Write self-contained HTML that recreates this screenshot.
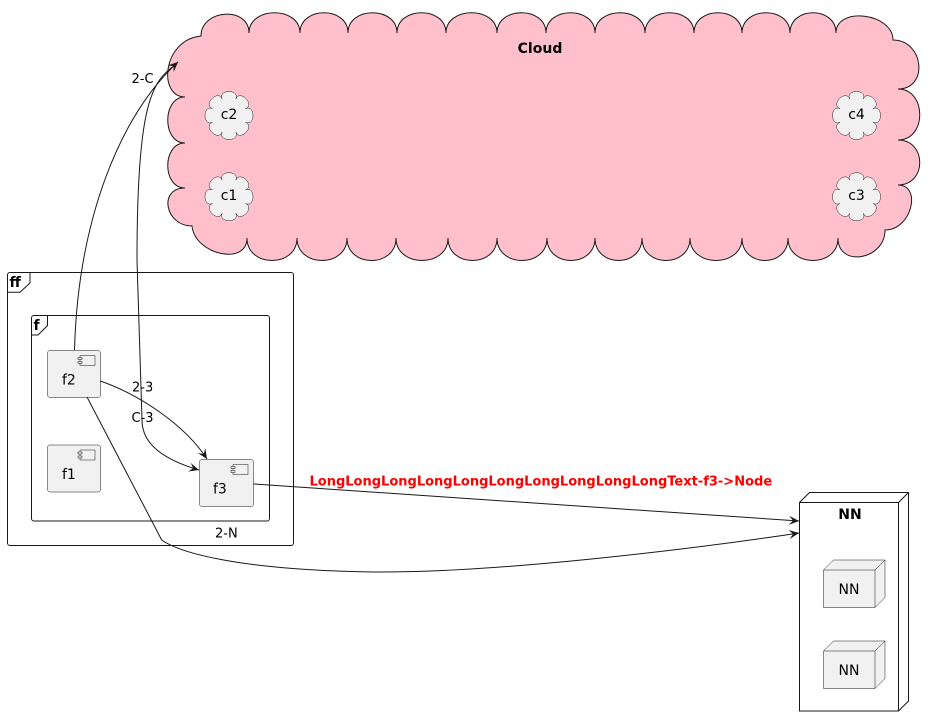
<!DOCTYPE html>
<html><head><meta charset="utf-8">
<style>
html,body{margin:0;padding:0;background:#fff;}
svg{display:block;}
text{font-family:"DejaVu Sans","Liberation Sans",sans-serif;fill:#000;}
</style></head>
<body>
<svg width="934" height="727" viewBox="0 0 934 727" xmlns="http://www.w3.org/2000/svg">
<defs>
<marker id="a" viewBox="-11 -5 12 10" refX="0" refY="0" markerWidth="12" markerHeight="10" markerUnits="userSpaceOnUse" orient="auto">
<path d="M0,0 L-10,-4.5 L-6,0 L-10,4.5 Z" fill="#181818"/>
</marker>
<path id="sc" d="M16.63,6.89 C26.43,10.95 10.95,26.43 6.89,16.63 C10.95,26.43 -10.95,26.43 -6.89,16.63 C-10.95,26.43 -26.43,10.95 -16.63,6.89 C-26.43,10.95 -26.43,-10.95 -16.63,-6.89 C-26.43,-10.95 -10.95,-26.43 -6.89,-16.63 C-10.95,-26.43 10.95,-26.43 6.89,-16.63 C10.95,-26.43 26.43,-10.95 16.63,-6.89 C26.43,-10.95 26.43,10.95 16.63,6.89 Z"/>
</defs>

<!-- Big cloud -->
<path d="M201,36
C201,9 249,6 249,33
C249,6 300,6 300,33
C300,6 348,6 348,33
C348,6 397,6 397,33
C397,6 446,6 446,33
C446,6 497,6 497,33
C497,6 546,6 546,33
C546,6 595,6 595,33
C595,6 645,6 645,33
C645,6 694,6 694,33
C694,6 742,6 742,33
C742,6 790,6 790,33
C790,6 836,6 836,33
C836,6 893,13 893,40
C924,40 929,89 898,89
C927,89 927,140 898,140
C927,140 927,185 898,185
C922,185 912,230 885,230
C885,260 838,268 838,238
C838,268 788,268 788,238
C788,268 742,268 742,238
C742,268 690,268 690,238
C690,268 642,268 642,238
C642,268 595,268 595,238
C595,268 547,268 547,238
C547,268 497,268 497,238
C497,268 448,268 448,238
C448,268 396,268 396,238
C396,268 347,268 347,238
C347,268 297,268 297,238
C297,268 247,268 247,238
C247,266 195,255 192,226
C165,226 158,188 185,188
C162,188 162,143 185,143
C162,143 162,97 185,97
C158,97 162,40 201,36 Z" fill="#FFC0CB" stroke="#181818" stroke-width="1"/>
<text x="540" y="53" font-size="14" font-weight="bold" text-anchor="middle">Cloud</text>

<!-- small clouds -->
<g fill="#F1F1F1" stroke="#181818" stroke-width="0.5">
<use href="#sc" transform="translate(229,115.5)"/>
<use href="#sc" transform="translate(229,196.7)"/>
<use href="#sc" transform="translate(856.5,115.5)"/>
<use href="#sc" transform="translate(856.5,196.7)"/>
</g>
<text x="229" y="119" font-size="14" text-anchor="middle">c2</text>
<text x="229" y="200" font-size="14" text-anchor="middle">c1</text>
<text x="856.5" y="119" font-size="14" text-anchor="middle">c4</text>
<text x="856.5" y="200" font-size="14" text-anchor="middle">c3</text>

<!-- frames -->
<rect x="7.5" y="272.5" width="286" height="273" rx="2.5" fill="none" stroke="#181818" stroke-width="1"/>
<path d="M7.5,292.3 L20,292.3 L30,283 L30,272.5" fill="none" stroke="#181818" stroke-width="1"/>
<text x="9.5" y="287" font-size="14" font-weight="bold">ff</text>
<rect x="31.5" y="315.5" width="238" height="205.5" rx="2.5" fill="none" stroke="#181818" stroke-width="1"/>
<path d="M31.5,335 L38,335 L47.5,325.5 L47.5,315.5" fill="none" stroke="#181818" stroke-width="1"/>
<text x="33.5" y="330" font-size="14" font-weight="bold">f</text>

<!-- components -->
<g fill="#F1F1F1" stroke="#181818" stroke-width="0.5">
<rect x="47.5" y="350.5" width="53" height="47" rx="2.5"/>
<rect x="80" y="355.5" width="15" height="10"/>
<rect x="78" y="357.5" width="4" height="2"/>
<rect x="78" y="361.5" width="4" height="2"/>

<rect x="47.5" y="445" width="53" height="47" rx="2.5"/>
<rect x="80" y="450" width="15" height="10"/>
<rect x="78" y="452" width="4" height="2"/>
<rect x="78" y="456" width="4" height="2"/>

<rect x="199.5" y="459.5" width="54" height="47" rx="2.5"/>
<rect x="233" y="464.5" width="15" height="10"/>
<rect x="231" y="466.5" width="4" height="2"/>
<rect x="231" y="470.5" width="4" height="2"/>
</g>
<text x="62" y="384.5" font-size="14">f2</text>
<text x="62" y="479" font-size="14">f1</text>
<text x="213" y="493.5" font-size="14">f3</text>

<!-- NN node -->
<g fill="#FFFFFF" stroke="#181818" stroke-width="1">
<path d="M799.5,502.5 L809.5,492.5 L908.5,492.5 L908.5,701 L898.5,711 L799.5,711 Z"/>
<path d="M799.5,502.5 L898.5,502.5 L908.5,492.5 M898.5,502.5 L898.5,711" fill="none"/>
</g>
<text x="850" y="519" font-size="14" font-weight="bold" text-anchor="middle">NN</text>
<g fill="#F1F1F1" stroke="#181818" stroke-width="0.5">
<path d="M823.5,570 L833.5,560 L885,560 L885,597.5 L875,607.5 L823.5,607.5 Z"/>
<path d="M823.5,570 L875,570 L885,560 M875,570 L875,607.5" fill="none"/>
<path d="M823.5,651 L833.5,641 L885,641 L885,678.5 L875,688.5 L823.5,688.5 Z"/>
<path d="M823.5,651 L875,651 L885,641 M875,651 L875,688.5" fill="none"/>
</g>
<text x="849" y="594" font-size="14" text-anchor="middle">NN</text>
<text x="849" y="675" font-size="14" text-anchor="middle">NN</text>

<!-- connectors -->
<g fill="none" stroke="#181818" stroke-width="1">
<path d="M74.5,350 C78,220 120,115 178,62" marker-end="url(#a)"/>
<path d="M177,64 C150,80 137,110 137,260 L142,420 C142,445 165,460 199,470" marker-end="url(#a)"/>
<path d="M100.5,381 C140,395 185,425 207,459" marker-end="url(#a)"/>
<path d="M253.5,484 L799,521" marker-end="url(#a)"/>
<path d="M87,397 L161.7,540 C180,553 240,570 373,572 C500,573 700,548 799,533" marker-end="url(#a)"/>
</g>

<!-- connector labels -->
<text x="131.5" y="83" font-size="13">2-C</text>
<text x="132" y="391.5" font-size="13">2-3</text>
<text x="131.5" y="422" font-size="13">C-3</text>
<text x="215" y="537.5" font-size="13">2-N</text>
<text x="309.5" y="485.5" font-size="13" font-weight="bold" style="fill:#FF0000">LongLongLongLongLongLongLongLongLongLongText-f3-&gt;Node</text>
</svg>
</body></html>
